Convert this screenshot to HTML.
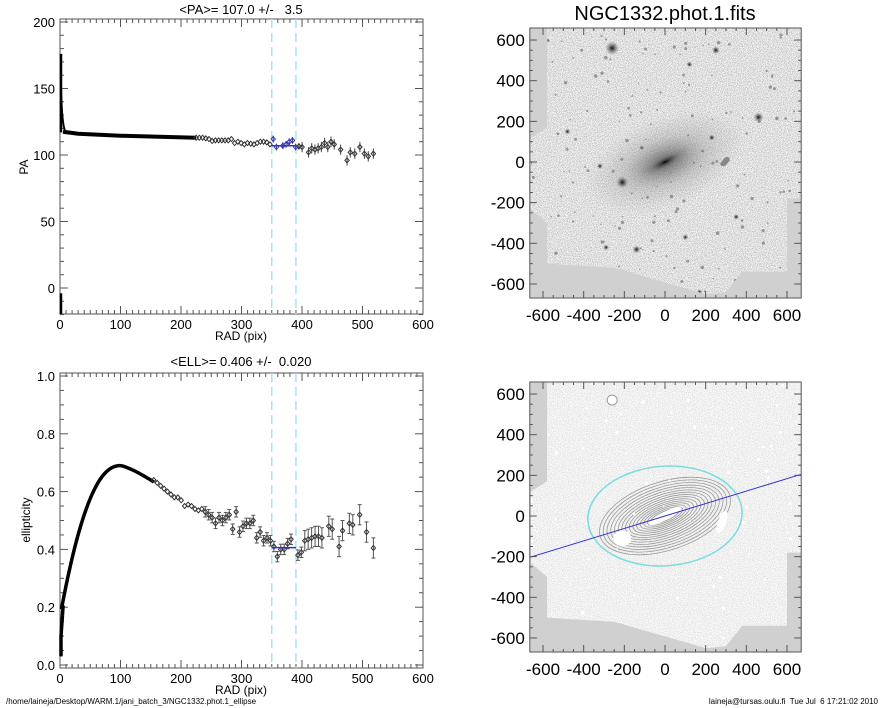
<!DOCTYPE html>
<html><head><meta charset="utf-8"><style>
body{margin:0;background:#fff;width:885px;height:708px;overflow:hidden}
svg{display:block}
text{font-family:"Liberation Sans",sans-serif;fill:#000;white-space:pre}
</style></head><body>
<svg id="s" width="885" height="708" xmlns="http://www.w3.org/2000/svg" xml:space="preserve">
<defs>
<filter id="noise" x="0" y="0" width="100%" height="100%">
<feTurbulence type="fractalNoise" baseFrequency="1.2" numOctaves="1" seed="3"/>
<feColorMatrix type="matrix" values="0 0 0 0 0.35  0 0 0 0 0.35  0 0 0 0 0.35  0 0 0 -4 2.3"/>
</filter>
<filter id="noise2" x="0" y="0" width="100%" height="100%">
<feTurbulence type="fractalNoise" baseFrequency="1.2" numOctaves="1" seed="7"/>
<feColorMatrix type="matrix" values="0 0 0 0 0.6  0 0 0 0 0.6  0 0 0 0 0.6  0 0 0 -4 2.2"/>
</filter>
<radialGradient id="gal" cx="0.5" cy="0.5" r="0.5">
<stop offset="0" stop-color="#000" stop-opacity="1"/>
<stop offset="0.15" stop-color="#333" stop-opacity="0.85"/>
<stop offset="0.5" stop-color="#777" stop-opacity="0.45"/>
<stop offset="1" stop-color="#999" stop-opacity="0"/>
</radialGradient>
<radialGradient id="star" cx="0.5" cy="0.5" r="0.5">
<stop offset="0" stop-color="#111"/><stop offset="1" stop-color="#666" stop-opacity="0"/>
</radialGradient>
<clipPath id="c1"><polygon id="p1" points=""/></clipPath>
<clipPath id="c2"><polygon id="p2" points=""/></clipPath>
</defs>
<g id="g"></g>
</svg>
<script>
var NS="http://www.w3.org/2000/svg",g=document.getElementById('g');
function el(t,a,txt){var e=document.createElementNS(NS,t);for(var k in a)e.setAttribute(k,a[k]);if(txt!=null)e.textContent=txt;g.appendChild(e);return e;}
var seed=12345;function rnd(){seed=(seed*16807)%2147483647;return seed/2147483647;}
function X(r){return 60+r*0.605;}
function frameLeft(top,bot,yt){
  el('rect',{x:60,y:top,width:363,height:bot-top,fill:'none',stroke:'#555','stroke-width':1});
  for(var r=0;r<=600;r+=10){var x=X(r),l=(r%100==0)?8:4;
    el('line',{x1:x,y1:bot,x2:x,y2:bot-l,stroke:'#555'});el('line',{x1:x,y1:top,x2:x,y2:top+l,stroke:'#555'});}
  for(var r=0;r<=600;r+=100)el('text',{x:X(r),y:bot+15,'font-size':13,'text-anchor':'middle'},r);
  yt.forEach(function(t){el('line',{x1:60,y1:t[0],x2:t[1]?68:64,y2:t[0],stroke:'#555'});el('line',{x1:423,y1:t[0],x2:t[1]?415:419,y2:t[0],stroke:'#555'});
    if(t[2]!=null)el('text',{x:55,y:t[0]+5,'font-size':13,'text-anchor':'end'},t[2]);});
  el('line',{x1:X(350),y1:top,x2:X(350),y2:bot,stroke:'#9ee8ee','stroke-width':1.5,'stroke-dasharray':'9,5'});
  el('line',{x1:X(390),y1:top,x2:X(390),y2:bot,stroke:'#9ee8ee','stroke-width':1.5,'stroke-dasharray':'9,5'});
}
function YP(p){return 288-p*1.33;}
var yt=[];for(var v=-20;v<=200;v+=10)yt.push([YP(v),v%50==0,v%50==0?v:null]);
frameLeft(19,314,yt);
el('text',{x:241,y:14,'font-size':13,'text-anchor':'middle'},'<PA>= 107.0 +/-   3.5');
el('text',{x:241,y:340,'font-size':12,'text-anchor':'middle'},'RAD (pix)');
el('text',{x:0,y:0,'font-size':12,'text-anchor':'middle',transform:'translate(28,167) rotate(-90)'},'PA');
el('line',{x1:61,y1:YP(176),x2:61,y2:YP(117),stroke:'#000','stroke-width':2.5});
el('path',{d:'M61 '+YP(150)+' Q62 '+YP(120)+' 66 '+YP(117),stroke:'#000','stroke-width':2,fill:'none'});
el('line',{x1:61,y1:YP(-4),x2:61,y2:314,stroke:'#000','stroke-width':2.5});
el('path',{d:'M63 '+YP(117.5)+' L'+X(30)+' '+YP(116)+' L'+X(100)+' '+YP(114.5)+' L'+X(225)+' '+YP(113),stroke:'#000','stroke-width':4,fill:'none'});
var paPts=[[210,113],[215,113],[220,113],[225,112.5],[230,112],[235,110.5],[240,111],[245,111],[250,111],[255,111],[260,111],[265,112],[270,109],[275,110],[280,109],[285,108],[290,109],[295,108.5],[300,108],[305,109],[310,110],[315,110],[320,109.5],[325,108],[330,112],[335,106],[345,107],[350,108],[355,110],[360,111],[365,106],[370,106.5],[375,106],[385,102],[390,105],[395,104],[400,105],[405,106],[410,109],[415,106],[420,110],[425,108],[435,104],[445,96],[450,102],[457,101],[465,106],[472,101],[478,99],[486,101]];
paPts.forEach(function(p,i){var r=225+(p[0]-210)*(293/276),x=X(r),y=YP(p[1]),b=(r>=350&&r<=392),c=b?'#33c':'#333';
  if(r>350){var e=(r>400?3:2);el('line',{x1:x,y1:y-e*1.33*1.3,x2:x,y2:y+e*1.33*1.3,stroke:'#444'});}
  el('path',{d:'M'+x+' '+(y-2.5)+'l2.2 2.5l-2.2 2.5l-2.2-2.5z',fill:'none',stroke:c,'stroke-width':1});});
el('line',{x1:X(350),y1:YP(107),x2:X(390),y2:YP(107),stroke:'#33c','stroke-width':1.5});
function YE(e){return 665-e*289;}
yt=[];for(var v=0;v<=1.0001;v+=0.05){var m=Math.round(v*100);yt.push([YE(v),m%20==0,m%20==0?(v).toFixed(1):null]);}
frameLeft(373,668,yt);
el('text',{x:241,y:366,'font-size':13,'text-anchor':'middle'},'<ELL>= 0.406 +/-  0.020');
el('text',{x:241,y:694,'font-size':12,'text-anchor':'middle'},'RAD (pix)');
el('text',{x:0,y:0,'font-size':12,'text-anchor':'middle',transform:'translate(30,520) rotate(-90)'},'ellipticity');
var d='M61 '+YE(0.03)+' L61 '+YE(0.1)+' L63 '+YE(0.2);
for(var r=3;r<=155;r+=2){var e;if(r<100)e=0.2+0.49*(1-Math.pow(1-(r-3)/97,2.2));else e=0.69-0.05*Math.pow((r-100)/50,1.3);d+=' L'+X(r)+' '+YE(e);}
el('path',{d:d,stroke:'#000','stroke-width':3.5,fill:'none'});
var ePts=[[155,.64],[160,.63],[165,.62],[170,.61],[175,.6],[180,.59],[185,.58],[190,.58],[195,.57],[200,.55],[205,.555],[210,.55],[215,.54],[220,.535],[225,.54],[230,.53],[235,.52],[240,.51],[245,.49],[250,.51],[255,.5],[260,.51],[265,.52],[270,.47],[275,.53],[280,.46],[285,.48],[290,.49],[295,.49],[300,.5],[305,.44],[310,.46],[315,.43],[320,.44],[325,.43],[330,.41],[335,.375],[340,.4],[345,.4],[350,.42],[355,.435],[365,.38],[370,.39],[375,.43],[380,.435],[385,.44],[390,.445],[395,.445],[400,.44],[410,.48],[415,.47],[425,.41],[430,.465],[440,.49],[445,.485],[455,.52],[465,.46],[475,.405]];
ePts.forEach(function(p){var r=155+(p[0]-155)*(363/320),x=X(r),y=YE(p[1]);
  if(r>240){var er=r>400?0.035:0.018;el('line',{x1:x,y1:YE(p[1]+er),x2:x,y2:YE(p[1]-er),stroke:'#555'});
    el('line',{x1:x-2,y1:YE(p[1]+er),x2:x+2,y2:YE(p[1]+er),stroke:'#555'});el('line',{x1:x-2,y1:YE(p[1]-er),x2:x+2,y2:YE(p[1]-er),stroke:'#555'});}
  el('path',{d:'M'+x+' '+(y-2.5)+'l2.2 2.5l-2.2 2.5l-2.2-2.5z',fill:'none',stroke:'#333','stroke-width':1});});
el('line',{x1:X(350),y1:YE(0.406),x2:X(390),y2:YE(0.406),stroke:'#33c','stroke-width':1.5});
el('text',{x:6,y:704,'font-size':8},'/home/laineja/Desktop/WARM.1/jani_batch_3/NGC1332.phot.1_ellipse');
el('text',{x:878,y:704,'font-size':8,'text-anchor':'end'},'laineja@tursas.oulu.fi  Tue Jul  6 17:21:02 2010');
var poly=[[-580,670],[-580,170],[-660,120],[-660,-230],[-580,-300],[-580,-500],[-250,-520],[200,-650],[300,-640],[380,-540],[600,-540],[600,-180],[670,-180],[670,670]];
function IX(x){return 665+x*0.2033;}
function img(cy,pid,top){
  var IY=function(y){return cy-y*0.2033;};
  var bx=IX(-665),by=top,bw=IX(670)-bx,bh=270;
  el('rect',{x:bx,y:by,width:bw,height:bh,fill:'#d0d0d0'});
  document.getElementById(pid).setAttribute('points',poly.map(function(p){return IX(p[0])+','+Math.max(top,Math.min(top+bh,IY(p[1])))}).join(' '));
  return {IY:IY,bx:bx,by:by,bw:bw,bh:bh};
}
var A=img(162,'p1',28);
var gg=el('g',{'clip-path':'url(#c1)'});
function sub(t,a){var e=document.createElementNS(NS,t);for(var k in a)e.setAttribute(k,a[k]);gg.appendChild(e);return e;}
sub('rect',{x:A.bx,y:A.by,width:A.bw,height:A.bh,fill:'#f4f4f4'});
sub('rect',{x:A.bx,y:A.by,width:A.bw,height:A.bh,filter:'url(#noise)',opacity:0.7});
sub('ellipse',{cx:665,cy:162,rx:85,ry:45,fill:'url(#gal)',transform:'rotate(-22 665 162)',opacity:0.6});
sub('ellipse',{cx:665,cy:162,rx:30,ry:9,fill:'url(#gal)',transform:'rotate(-28 665 162)'});
var stars=[[-260,560,7],[250,550,4],[460,220,5],[-210,-100,6],[-140,-430,4],[-290,-420,3],[-480,150,3],[230,120,3],[170,-640,3],[120,480,3],[-320,-20,3],[350,-270,3],[100,-370,3]];
stars.forEach(function(s){sub('circle',{cx:IX(s[0]),cy:A.IY(s[1]),r:s[2],fill:'url(#star)'});});
for(var i=0;i<160;i++)sub('circle',{cx:A.bx+rnd()*A.bw,cy:A.by+rnd()*A.bh,r:0.6+rnd()*1.2,fill:'#666',opacity:0.6});
sub('path',{d:'M'+IX(270)+' '+A.IY(-10)+' q8 -12 10 -4 q-6 10 -10 4z',fill:'#888'});
function axesR(A,title){
  el('rect',{x:A.bx,y:A.by,width:A.bw,height:A.bh,fill:'none',stroke:'#555'});
  for(var v=-600;v<=600;v+=50){var x=IX(v),y=A.IY(v),l=v%200==0?7:3;
    el('line',{x1:x,y1:A.by+A.bh,x2:x,y2:A.by+A.bh-l,stroke:'#555'});el('line',{x1:x,y1:A.by,x2:x,y2:A.by+l,stroke:'#555'});
    el('line',{x1:A.bx,y1:y,x2:A.bx+l,y2:y,stroke:'#555'});el('line',{x1:A.bx+A.bw,y1:y,x2:A.bx+A.bw-l,y2:y,stroke:'#555'});
    if(v%200==0){el('text',{x:x,y:A.by+A.bh+23,'font-size':17,'text-anchor':'middle'},v);
      el('text',{x:A.bx-5,y:y+6,'font-size':17,'text-anchor':'end'},v);}}
  if(title)el('text',{x:665,y:20,'font-size':20,'text-anchor':'middle'},title);
}
axesR(A,'NGC1332.phot.1.fits');
var B=img(516,'p2',382);
gg=el('g',{'clip-path':'url(#c2)'});
sub('rect',{x:B.bx,y:B.by,width:B.bw,height:B.bh,fill:'#fafafa'});
sub('rect',{x:B.bx,y:B.by,width:B.bw,height:B.bh,filter:'url(#noise2)',opacity:0.75});
var cx0=IX(0),cy0=B.IY(0);
for(var k=0;k<18;k++){var f=1-k/18;sub('ellipse',{cx:cx0,cy:cy0,rx:68*f,ry:36*f*(0.95-0.45*(1-f)),fill:'none',stroke:'#999','stroke-width':0.8,transform:'rotate('+(-18-6*(1-f))+' '+cx0+' '+cy0+')'});}
sub('ellipse',{cx:cx0,cy:cy0,rx:18,ry:4,fill:'#fff',transform:'rotate(-28 '+cx0+' '+cy0+')'});
sub('ellipse',{cx:IX(-210),cy:B.IY(-110),rx:9,ry:8,fill:'#fff'});
sub('ellipse',{cx:IX(280),cy:B.IY(-30),rx:4,ry:12,fill:'#fff',transform:'rotate(20 '+IX(280)+' '+B.IY(-30)+')'});
sub('circle',{cx:IX(-260),cy:B.IY(570),r:5,fill:'#fff',stroke:'#999'});
for(var i=0;i<80;i++)sub('circle',{cx:B.bx+rnd()*B.bw,cy:B.by+rnd()*B.bh,r:0.6+rnd()*1.2,fill:'#fff'});
sub('ellipse',{cx:cx0,cy:cy0,rx:IX(380)-cx0,ry:(B.IY(-245)-B.IY(245))/2,fill:'none',stroke:'#7dd','stroke-width':1.5,transform:'rotate(-4 '+cx0+' '+cy0+')'});
sub('line',{x1:IX(-670),y1:B.IY(-205),x2:IX(670),y2:B.IY(205),stroke:'#33c','stroke-width':1});
axesR(B,null);
</script>
</body></html>
